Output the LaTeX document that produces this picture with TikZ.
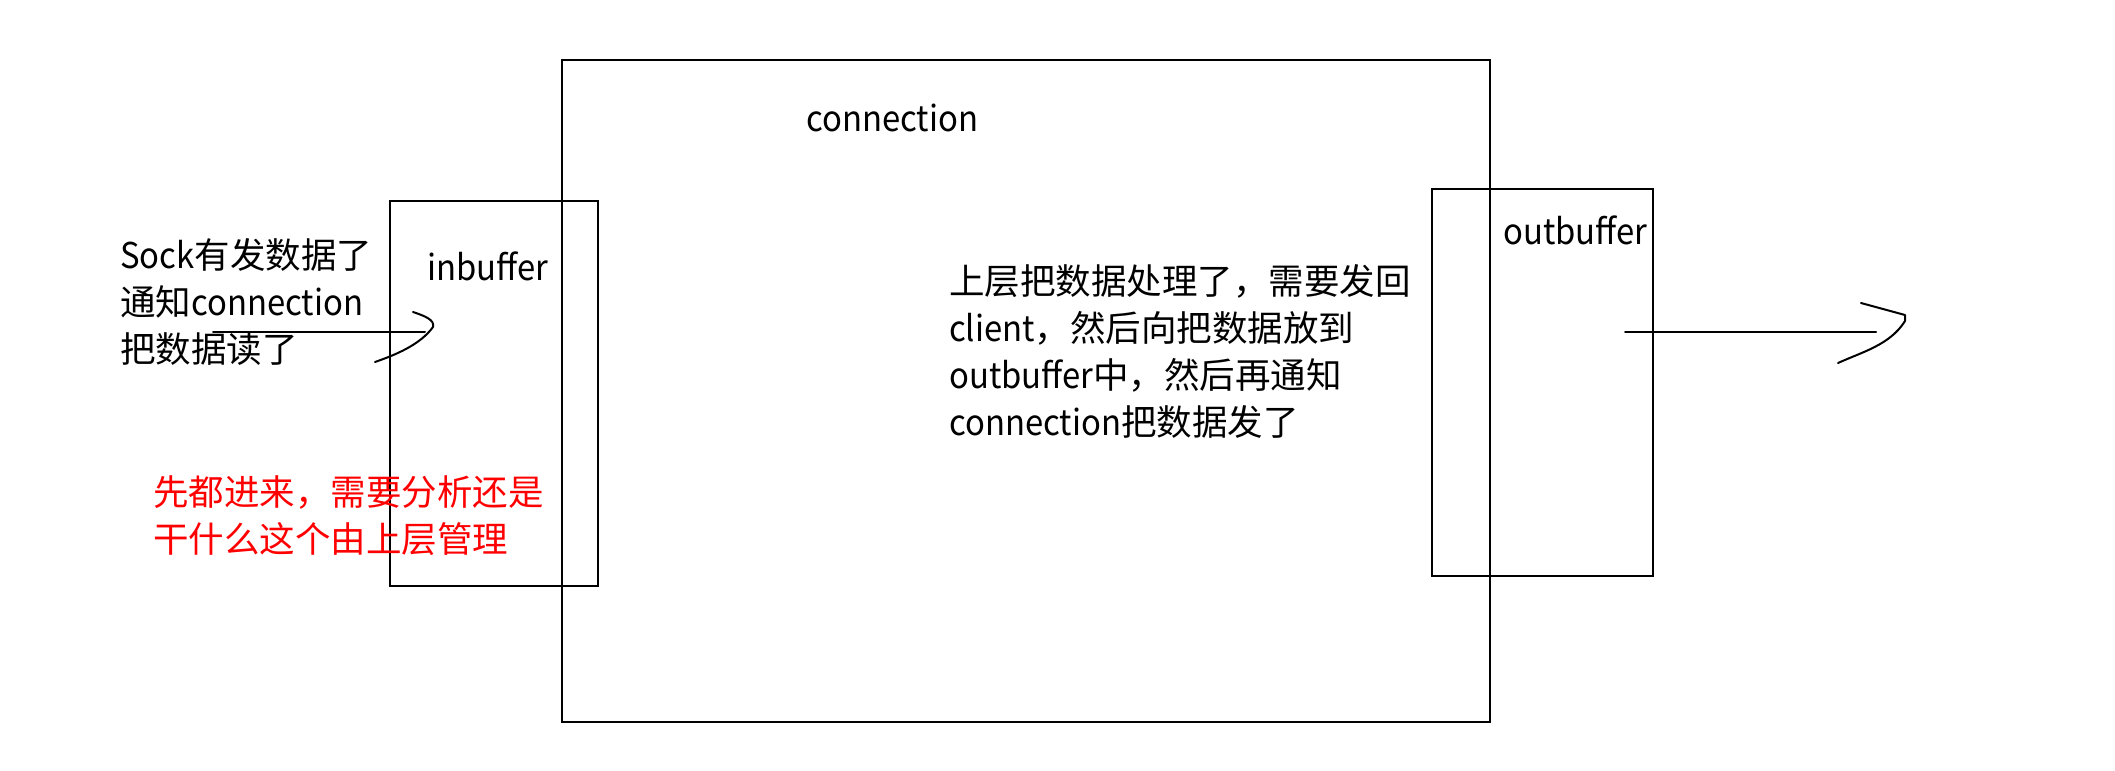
\documentclass[tikz,border=0pt]{standalone}
\usepackage{fontspec}
\setmainfont{Noto Sans CJK SC}
\newfontfamily\latn{Noto Sans CJK SC}[FakeStretch=0.925]
\newcommand{\lw}[1]{{\latn #1}}
\begin{document}
\begin{tikzpicture}[x=1pt,y=-1pt,
  box/.style={draw=black,line width=2pt,anchor=north west,inner sep=0pt,outer sep=0pt},
  txt/.style={anchor=base west,inner sep=0pt,font=\fontsize{35.5}{47}\selectfont},
  red txt/.style={txt,text=red},
  stroke/.style={draw=black,line width=2pt,line cap=round,line join=round}]
\useasboundingbox (0,0) rectangle (2115,771);
% boxes
\node[box,minimum width=928pt,minimum height=662pt] (conn) at (562,60) {};
\node[box,minimum width=208pt,minimum height=385pt] (inbuf) at (390,201) {};
\node[box,minimum width=221pt,minimum height=387pt] (outbuf) at (1432,189) {};
% labels
\node[txt] (lconn) at (806,131) {\lw{connection}};
\node[txt] (lin) at (427,280) {\lw{inbuffer}};
\node[txt] (lout) at (1503,244) {\lw{outbuffer}};
% left text
\node[txt] (l1) at (120,268) {\lw{Sock}有发数据了};
\node[txt] (l2) at (120,315) {通知\lw{connection}};
\node[txt] (l3) at (120,362) {把数据读了};
% red text
\node[red txt] (r1) at (153,505) {先都进来，需要分析还是};
\node[red txt] (r2) at (153,552) {干什么这个由上层管理};
% right text
\node[txt] (m1) at (949,294) {上层把数据处理了，需要发回};
\node[txt] (m2) at (949,341) {\lw{client}，然后向把数据放到};
\node[txt] (m3) at (949,388) {\lw{outbuffer}中，然后再通知};
\node[txt] (m4) at (949,435) {\lw{connection}把数据发了};
% arrows
\coordinate (ia) at (213,332);
\coordinate (ib) at (425,332);
\draw[stroke] (ia) -- (ib);
\draw[stroke] (413,312) .. controls (425,316) and (435,320) .. (433,327)
  .. controls (420,345) and (395,355) .. (375,362);
\coordinate (oa) at (1625,332);
\coordinate (ob) at (1876,332);
\draw[stroke] (oa) -- (ob);
\draw[stroke] (1861,303) -- (1905,315) -- (1905,321)
  .. controls (1890,345) and (1862,352) .. (1838,363);
\end{tikzpicture}
\end{document}
